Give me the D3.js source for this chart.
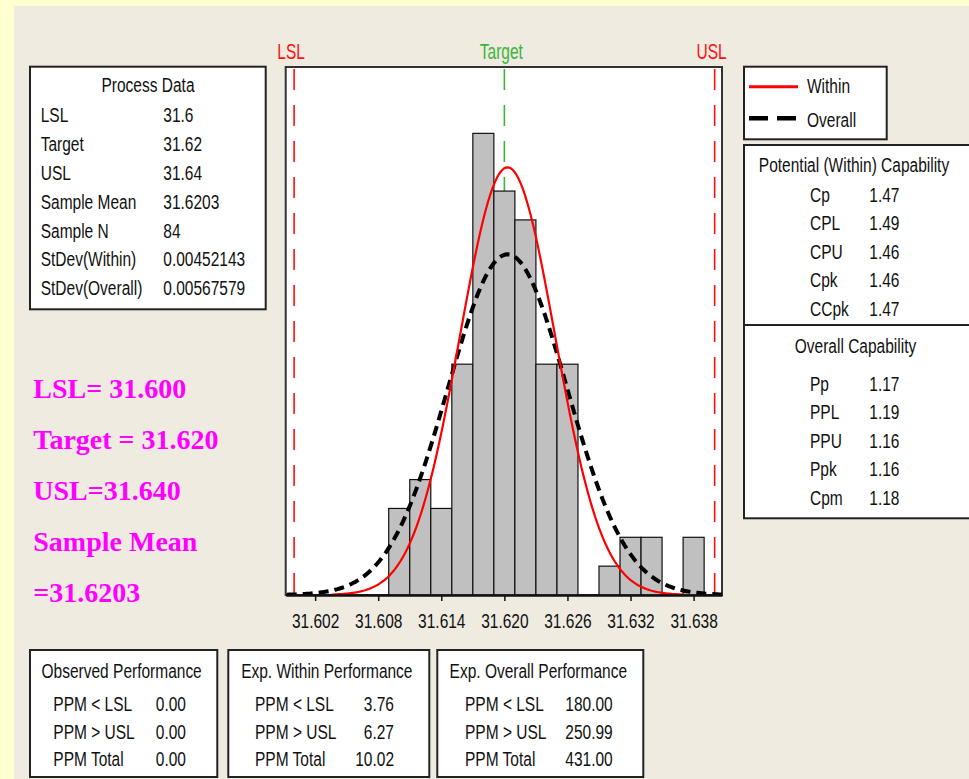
<!DOCTYPE html>
<html>
<head>
<meta charset="utf-8">
<script src="https://cdn.jsdelivr.net/npm/d3@7"></script>
<style>
  body { margin: 0; background: #FFFFD0; }
  svg { display: block; }
</style>
</head>
<body>
<svg id="chart" width="969" height="779"></svg>
<script>
// ---- data ----
var binCenters = [31.610, 31.612, 31.614, 31.616, 31.618, 31.620, 31.622, 31.624,
                  31.626, 31.628, 31.630, 31.632, 31.634, 31.636, 31.638];
var binCounts  = [3, 4, 3, 8, 16, 14, 13, 8, 8, 0, 1, 2, 2, 0, 2];
var binWidth = 0.002;

var xTicks = [31.602, 31.608, 31.614, 31.620, 31.626, 31.632, 31.638];
var xMinorTicks = [31.605, 31.611, 31.617, 31.623, 31.629, 31.635];

var specNames  = ["LSL", "Target", "USL"];
var specValues = [31.6, 31.62, 31.64];

var sampleMean = 31.6203;
var sampleN = 84;
var sdWithin = 0.00452143;
var sdOverall = 0.00567579;

var processLabels = ["LSL", "Target", "USL", "Sample Mean", "Sample N", "StDev(Within)", "StDev(Overall)"];
var processValues = ["31.6", "31.62", "31.64", "31.6203", "84", "0.00452143", "0.00567579"];

var withinLabels = ["Cp", "CPL", "CPU", "Cpk", "CCpk"];
var withinValues = ["1.47", "1.49", "1.46", "1.46", "1.47"];
var overallLabels = ["Pp", "PPL", "PPU", "Ppk", "Cpm"];
var overallValues = ["1.17", "1.19", "1.16", "1.16", "1.18"];

var ppmLabels = ["PPM < LSL", "PPM > USL", "PPM Total"];
var perfTitles = ["Observed Performance", "Exp. Within Performance", "Exp. Overall Performance"];
var perfValues = [
    ["0.00", "0.00", "0.00"],
    ["3.76", "6.27", "10.02"],
    ["180.00", "250.99", "431.00"]
];

var notes = ["LSL= 31.600", "Target = 31.620", "USL=31.640", "Sample Mean", "=31.6203"];

// ---- drawing ----
var SY = 1.3;   // the screenshot text is stretched vertically
var FONT = "Liberation Sans, Arial, sans-serif";

var svg = d3.select("#chart");

svg.append("rect")
    .attr("x", 14).attr("y", 6)
    .attr("width", 969).attr("height", 779)
    .attr("fill", "#EFEBE1");

function label(g, x, y, s, o) {
    o = o || {};
    return g.append("text")
        .attr("transform", "translate(" + x + "," + y + ") scale(1," + (o.sy || SY) + ")")
        .attr("text-anchor", o.anchor || "start")
        .attr("font-family", FONT)
        .attr("font-size", o.size || 15.5)
        .attr("fill", o.fill || "#111")
        .text(s);
}

function box(x, y, w, h) {
    return svg.append("rect")
        .attr("x", x).attr("y", y)
        .attr("width", w).attr("height", h)
        .attr("fill", "#fff")
        .attr("stroke", "#222")
        .attr("stroke-width", 2);
}

// plot area
var plot = { left: 285.7, top: 67, right: 722, bottom: 595 };

var x = d3.scaleLinear()
    .domain([31.5992, 31.6407])
    .range([plot.left, plot.right]);

var y = d3.scaleLinear()
    .domain([0, 18.3])
    .range([plot.bottom, plot.top]);

svg.append("rect")
    .attr("x", plot.left).attr("y", plot.top)
    .attr("width", plot.right - plot.left)
    .attr("height", plot.bottom - plot.top)
    .attr("fill", "#fff")
    .attr("stroke", "#333")
    .attr("stroke-width", 2);

svg.append("clipPath").attr("id", "clip")
    .append("rect")
    .attr("x", plot.left).attr("y", plot.top)
    .attr("width", plot.right - plot.left)
    .attr("height", plot.bottom - plot.top);

var inner = svg.append("g").attr("clip-path", "url(#clip)");

var specColors = ["#FF1010", "#3CB43C", "#FF1010"];

// spec lines (behind the bars)
inner.selectAll(".spec")
    .data(specValues)
    .enter().append("line")
    .attr("class", "spec")
    .attr("x1", function(d) { return x(d); })
    .attr("x2", function(d) { return x(d); })
    .attr("y1", plot.top + 2)
    .attr("y2", plot.bottom)
    .attr("stroke", function(d, i) { return specColors[i]; })
    .attr("stroke-width", 1.6)
    .attr("stroke-dasharray", "21,15");

specNames.forEach(function(n, i) {
    label(svg, x(specValues[i]) - 3, 59.3, n, { anchor: "middle", fill: specColors[i], sy: 1.4 });
});

// histogram
var bins = binCenters.map(function(c, i) { return { c: c, n: binCounts[i] }; })
    .filter(function(d) { return d.n > 0; });

inner.selectAll(".bar")
    .data(bins)
    .enter().append("rect")
    .attr("class", "bar")
    .attr("x", function(d) { return x(d.c - binWidth / 2); })
    .attr("y", function(d) { return y(d.n); })
    .attr("width", function(d) { return x(d.c + binWidth / 2) - x(d.c - binWidth / 2); })
    .attr("height", function(d) { return y(0) - y(d.n); })
    .attr("fill", "#C0C0C0")
    .attr("stroke", "#111")
    .attr("stroke-width", 1.2);

// fitted normal curves, scaled to counts per bin
function normalPoints(mu, sd) {
    var lo = mu - 3.7 * sd, hi = mu + 3.7 * sd, pts = [];
    for (var k = 0; k <= 200; k++) {
        var v = lo + (hi - lo) * k / 200;
        var z = (v - mu) / sd;
        var dens = Math.exp(-0.5 * z * z) / (sd * Math.sqrt(2 * Math.PI));
        pts.push([v, dens * sampleN * binWidth]);
    }
    return pts;
}

var line = d3.line()
    .x(function(d) { return x(d[0]); })
    .y(function(d) { return y(d[1]); });

inner.append("path")
    .datum(normalPoints(sampleMean, sdOverall))
    .attr("d", line)
    .attr("fill", "none")
    .attr("stroke", "#000")
    .attr("stroke-width", 4)
    .attr("stroke-dasharray", "10,6");

inner.append("path")
    .datum(normalPoints(sampleMean, sdWithin))
    .attr("d", line)
    .attr("fill", "none")
    .attr("stroke", "#FF0000")
    .attr("stroke-width", 2.2);

// axis
var axisG = svg.append("g")
    .attr("transform", "translate(0," + plot.bottom + ")")
    .attr("font-family", FONT);

axisG.call(d3.axisBottom(x).tickValues(xMinorTicks).tickSize(6).tickSizeOuter(0).tickFormat(""));
axisG.call(d3.axisBottom(x).tickValues(xTicks).tickSize(6).tickSizeOuter(0).tickFormat(d3.format(".3f")));
axisG.selectAll(".domain").attr("stroke", "#111").attr("stroke-width", 2.5);
axisG.selectAll(".tick line").attr("stroke", "#111").attr("stroke-width", 1.5);
axisG.selectAll(".tick text")
    .attr("y", 33.3 / SY)
    .attr("dy", 0)
    .attr("transform", "scale(1," + SY + ")")
    .attr("font-size", 15.5)
    .attr("fill", "#111");

// process data box
box(30, 66.7, 235.7, 242.6);
label(svg, 148, 91.7, "Process Data", { anchor: "middle" });
processLabels.forEach(function(s, i) {
    label(svg, 40.7, 121.7 + i * 28.95, s);
    label(svg, 163.3, 121.7 + i * 28.95, processValues[i]);
});

// legend
box(744, 66.7, 142.7, 72.6);
svg.append("line")
    .attr("x1", 749).attr("x2", 798)
    .attr("y1", 86.7).attr("y2", 86.7)
    .attr("stroke", "#FF0000").attr("stroke-width", 3);
svg.append("line")
    .attr("x1", 749).attr("x2", 798)
    .attr("y1", 118.3).attr("y2", 118.3)
    .attr("stroke", "#000").attr("stroke-width", 4.5)
    .attr("stroke-dasharray", "19,9");
label(svg, 807, 93.3, "Within");
label(svg, 807, 126.7, "Overall");

// capability box
box(744, 145, 240, 373.3);
svg.append("line")
    .attr("x1", 744).attr("x2", 969)
    .attr("y1", 325).attr("y2", 325)
    .attr("stroke", "#222").attr("stroke-width", 2);
label(svg, 854, 172, "Potential (Within) Capability", { anchor: "middle" });
withinLabels.forEach(function(s, i) {
    label(svg, 810, 202 + i * 28.4, s);
    label(svg, 869.3, 202 + i * 28.4, withinValues[i]);
});
label(svg, 855.5, 353, "Overall Capability", { anchor: "middle" });
overallLabels.forEach(function(s, i) {
    label(svg, 810, 390.5 + i * 28.6, s);
    label(svg, 869.3, 390.5 + i * 28.6, overallValues[i]);
});

// performance boxes
var perfBoxes = [
    { x: 30, w: 187.3, lab: 53.3, val: 186 },
    { x: 228.3, w: 201, lab: 255, val: 394 },
    { x: 437.3, w: 206, lab: 465, val: 612.7 }
];
var rowY = [711, 739, 765.7];
perfBoxes.forEach(function(b, j) {
    box(b.x, 650, b.w, 127);
    label(svg, b.x + b.w / 2 - 2, 678.3, perfTitles[j], { anchor: "middle" });
    ppmLabels.forEach(function(s, i) {
        label(svg, b.lab, rowY[i], s);
        label(svg, b.val, rowY[i], perfValues[j][i], { anchor: "end" });
    });
});

// magenta notes
svg.selectAll(".note")
    .data(notes)
    .enter().append("text")
    .attr("class", "note")
    .attr("x", 33.3)
    .attr("y", function(d, i) { return 398.3 + i * 50.85; })
    .attr("font-family", "Liberation Serif, Times New Roman, serif")
    .attr("font-weight", "bold")
    .attr("font-size", 28)
    .attr("fill", "#FF00FF")
    .text(function(d) { return d; });
</script>
</body>
</html>
